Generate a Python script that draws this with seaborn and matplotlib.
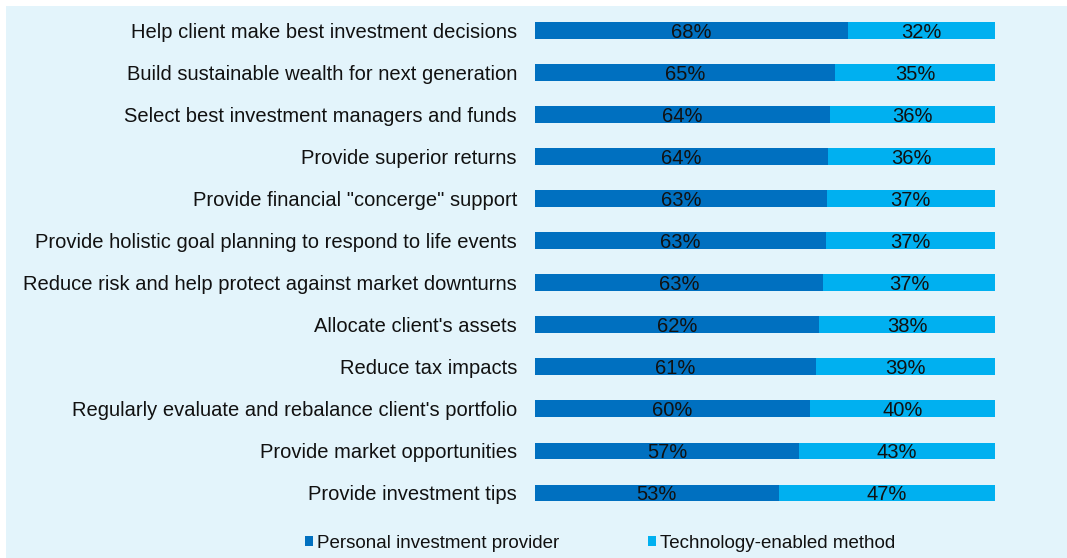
import pandas as pd
import seaborn as sns
import matplotlib.pyplot as plt
from matplotlib.patches import Patch, Rectangle

categories = [
    "Help client make best investment decisions",
    "Build sustainable wealth for next generation",
    "Select best investment managers and funds",
    "Provide superior returns",
    'Provide financial "concerge" support',
    "Provide holistic goal planning to respond to life events",
    "Reduce risk and help protect against market downturns",
    "Allocate client's assets",
    "Reduce tax impacts",
    "Regularly evaluate and rebalance client's portfolio",
    "Provide market opportunities",
    "Provide investment tips",
]
personal = [68, 65, 64, 64, 63, 63, 63, 62, 61, 60, 57, 53]
technology = [32, 35, 36, 36, 37, 37, 37, 38, 39, 40, 43, 47]
# bar lengths (labels are rounded)
personal_len = [68, 65.2, 64.2, 63.6, 63.4, 63.2, 62.6, 61.8, 61.0, 59.8, 57.4, 53.0]

dark = "#0070C0"
light = "#00B0F0"
bg = "#E3F4FB"

df = pd.DataFrame({"cat": categories, "personal": personal, "tech": technology,
                   "plen": personal_len})
df["total"] = 100

sns.set_style("white")
plt.rcParams["font.family"] = ["Liberation Sans", "DejaVu Sans"]

fig = plt.figure(figsize=(10.67, 5.58), dpi=100)
fig.patches.append(Rectangle((6 / 1067, 0), 1, 1 - 6 / 558, transform=fig.transFigure,
                             facecolor=bg, edgecolor="none", zorder=-10))
ax = fig.add_axes([535 / 1067, 1 - 514 / 558, 460 / 1067, (514 - 9.5) / 558])
ax.set_facecolor("none")

sns.barplot(data=df, x="total", y="cat", color=light, width=0.4, ax=ax,
            saturation=1, edgecolor="none")
sns.barplot(data=df, x="plen", y="cat", color=dark, width=0.4, ax=ax,
            saturation=1, edgecolor="none")

for i, row in df.iterrows():
    ax.text(row["plen"] / 2, i + 0.04, f"{row['personal']}%", ha="center", va="center",
            fontsize=14.5, color="#111111")
    ax.text(row["plen"] + (100 - row["plen"]) / 2, i + 0.04, f"{row['tech']}%", ha="center",
            va="center", fontsize=14.5, color="#111111")

ax.set_xlim(0, 100)
ax.set_ylim(11.5, -0.5)
ax.set_xlabel("")
ax.set_ylabel("")
ax.set_xticks([])
ax.tick_params(axis="y", length=0, pad=13, labelsize=14.5, labelcolor="#111111")
sns.despine(ax=ax, left=True, bottom=True)

handles = [Patch(facecolor=dark, edgecolor="none", label="Personal investment provider"),
           Patch(facecolor=light, edgecolor="none", label="Technology-enabled method")]
fig.legend(handles=handles, loc="center", bbox_to_anchor=(600 / 1067, 1 - 543 / 558),
           ncol=2, frameon=False, fontsize=13.5, handlelength=0.43, handleheight=0.43,
           handletextpad=0.2, columnspacing=4.75, labelcolor="#111111")

fig.savefig("out.png", dpi=100)
